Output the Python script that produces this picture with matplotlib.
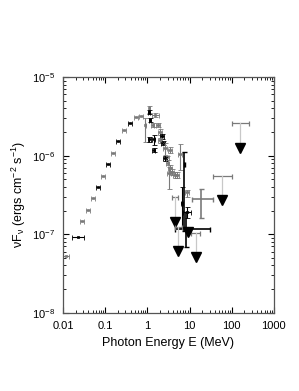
import matplotlib
matplotlib.use('Agg')
import matplotlib.pyplot as plt
import numpy as np

plt.rcParams['font.family'] = ['Liberation Sans', 'DejaVu Sans']
plt.rcParams['mathtext.fontset'] = 'custom'
plt.rcParams['mathtext.rm'] = 'Liberation Sans'
plt.rcParams['mathtext.it'] = 'Liberation Sans'

# low energy points (E in MeV, flux, x-bar low, x-bar high)
lo_E = [0.0118, 0.0226, 0.028, 0.039, 0.051, 0.0676, 0.0888, 0.116, 0.153, 0.201, 0.279, 0.387, 0.537, 0.705]
lo_F = [5.3e-8, 9.3e-8, 1.48e-7, 2.04e-7, 2.9e-7, 4.0e-7, 5.5e-7, 7.85e-7, 1.08e-6, 1.54e-6, 2.12e-6, 2.6e-6, 3.1e-6, 3.2e-6]
lo_xl = [0.010, 0.0163, 0.025, 0.035, 0.046, 0.061, 0.080, 0.105, 0.139, 0.183, 0.254, 0.352, 0.49, 0.64]
lo_xh = [0.014, 0.0314, 0.031, 0.043, 0.056, 0.074, 0.098, 0.128, 0.168, 0.221, 0.307, 0.425, 0.59, 0.78]
lo_col = ['g', 'k', 'g', 'g', 'g', 'k', 'g', 'k', 'g', 'k', 'g', 'k', 'g', 'g']

# points around the peak: E, F, E low, E high, F low, F high, colour
pk_E = [1.12, 1.12, 1.51, 0.90, 1.17, 1.34, 1.79, 1.12, 1.42, 1.98, 2.2, 1.98, 2.34, 1.42, 2.62,
        2.9, 3.4, 2.62, 3.0, 3.4, 3.8, 4.5, 5.0, 3.2, 5.9, 6.6, 8.7, 8.7]
pk_F = [4.0e-6, 3.6e-6, 3.3e-6, 2.45e-6, 2.85e-6, 2.45e-6, 2.45e-6, 1.63e-6, 1.63e-6, 2.0e-6, 1.78e-6,
        1.58e-6, 1.45e-6, 1.18e-6, 1.25e-6, 9.6e-7, 1.18e-6, 9.3e-7, 8.1e-7, 7.0e-7, 6.2e-7, 5.7e-7,
        5.7e-7, 6.0e-7, 1.05e-6, 2.5e-7, 1.9e-7, 3.4e-7]
pk_xl = [1.08, 1.06, 1.28, 0.86, 1.10, 1.25, 1.62, 1.05, 1.32, 1.80, 2.0, 1.8, 2.15, 1.32, 2.4,
         2.6, 3.1, 2.4, 2.75, 3.1, 3.45, 4.1, 4.6, 2.9, 5.4, 6.2, 7.0, 8.0]
pk_xh = [1.16, 1.18, 1.89, 0.95, 1.25, 1.45, 2.0, 1.2, 1.52, 2.2, 2.45, 2.2, 2.6, 1.52, 2.9,
         3.2, 3.8, 2.9, 3.3, 3.8, 4.2, 5.0, 5.5, 3.6, 6.5, 7.0, 11.0, 9.5]
pk_yl = [3.5e-6, 3.4e-6, 3.1e-6, 1.5e-6, 2.7e-6, 2.3e-6, 2.3e-6, 1.5e-6, 1.37e-6, 1.85e-6, 1.65e-6,
         1.45e-6, 1.35e-6, 1.1e-6, 1.02e-6, 8.8e-7, 1.08e-6, 8.6e-7, 7.5e-7, 6.4e-7, 5.7e-7, 5.2e-7,
         5.2e-7, 3.8e-7, 6.6e-7, 1.2e-7, 1.6e-7, 3.0e-7]
pk_yh = [4.3e-6, 3.8e-6, 3.5e-6, 3.0e-6, 3.0e-6, 2.6e-6, 2.6e-6, 1.75e-6, 1.84e-6, 2.15e-6, 1.9e-6,
         1.7e-6, 1.55e-6, 1.25e-6, 1.45e-6, 1.0e-6, 1.28e-6, 1.0e-6, 8.7e-7, 7.6e-7, 6.7e-7, 6.2e-7,
         6.2e-7, 7.2e-7, 1.4e-6, 4.0e-7, 2.2e-7, 3.7e-7]
pk_col = ['g', 'k', 'g', 'g', 'k', 'g', 'g', 'k', 'k', 'g', 'k', 'g', 'k', 'k', 'g',
          'g', 'g', 'k', 'g', 'g', 'g', 'g', 'g', 'g', 'g', 'k', 'k', 'g']

# large error points: E, F, E low, E high, F low, F high, colour
big_E = [7.4, 8.2, 18.6]
big_F = [7.8e-7, 1.17e-7, 2.77e-7]
big_xl = [7.2, 4.5, 11.4]
big_xh = [7.6, 30.0, 35.0]
big_yl = [1.1e-7, 6.9e-8, 1.6e-7]
big_yh = [1.1e-6, 1.9e-7, 3.8e-7]
big_col = ['k', 'k', 'g']

# upper limits: E, E low, E high, flux of bar, flux of arrow head
ul_E = [155, 59, 4.5, 5.3, 14.0, 9.1]
ul_xl = [100, 35, 3.9, 4.5, 11.0, 9.1]
ul_xh = [250, 100, 5.2, 6.5, 18.0, 9.1]
ul_top = [2.6e-6, 5.5e-7, 3.0e-7, 1.24e-7, 1.04e-7, 1.25e-7]
ul_bot = [1.25e-6, 2.7e-7, 1.45e-7, 6.2e-8, 5.1e-8, 1.07e-7]

grey = '#7a7a7a'
cmap = {'k': 'black', 'g': grey}

fig = plt.figure(figsize=(2.99, 3.91), dpi=100)
ax = fig.add_axes([0.211, 0.2, 0.705, 0.603])

for E, F, xl, xh, c in zip(lo_E, lo_F, lo_xl, lo_xh, lo_col):
    ax.errorbar([E], [F], xerr=[[E - xl], [xh - E]], fmt='s', ms=2, mfc='none',
                mec=cmap[c], ecolor=cmap[c], elinewidth=0.8, capsize=1.8, capthick=0.8, mew=0.6)

for E, F, xl, xh, yl, yh, c in zip(pk_E, pk_F, pk_xl, pk_xh, pk_yl, pk_yh, pk_col):
    ax.errorbar([E], [F], xerr=[[E - xl], [xh - E]], yerr=[[F - yl], [yh - F]], fmt='s', ms=2,
                mfc='none', mec=cmap[c], ecolor=cmap[c], elinewidth=0.8, capsize=1.8,
                capthick=0.8, mew=0.6)

for E, F, xl, xh, yl, yh, c in zip(big_E, big_F, big_xl, big_xh, big_yl, big_yh, big_col):
    ax.errorbar([E], [F], xerr=[[E - xl], [xh - E]], yerr=[[F - yl], [yh - F]], fmt='none',
                ecolor=cmap[c], elinewidth=1.2, capsize=1.8, capthick=1.0)

for E, xl, xh, t, b in zip(ul_E, ul_xl, ul_xh, ul_top, ul_bot):
    if xh > xl:
        ax.errorbar([E], [t], xerr=[[E - xl], [xh - E]], fmt='none', ecolor=grey,
                    elinewidth=0.9, capsize=1.8, capthick=0.9)
    ax.plot([E, E], [t, b], color='#c8c8c8', lw=0.9)
    ax.plot([E], [b], marker='v', color='black', ms=6.5, mec='black')

ax.set_xscale('log')
ax.set_yscale('log')
ax.set_xlim(0.01, 1000)
ax.set_ylim(1e-8, 1e-5)
ax.set_xticks([0.01, 0.1, 1, 10, 100, 1000])
ax.set_xticklabels(['0.01', '0.1', '1', '10', '100', '1000'])
ax.tick_params(which='both', direction='in', top=True, right=True, labelsize=8, pad=6)
ax.tick_params(which='major', length=4, width=0.8)
ax.tick_params(which='minor', length=2, width=0.6)
for s in ax.spines.values():
    s.set_color('#555555')
    s.set_linewidth(0.9)

ax.set_xlabel('Photon Energy E (MeV)', fontsize=9, labelpad=4)
ax.set_ylabel('νF$_{ν}$ (ergs cm$^{-2}$ s$^{-1}$)', fontsize=9, labelpad=3)

fig.savefig('out.png', dpi=100)
